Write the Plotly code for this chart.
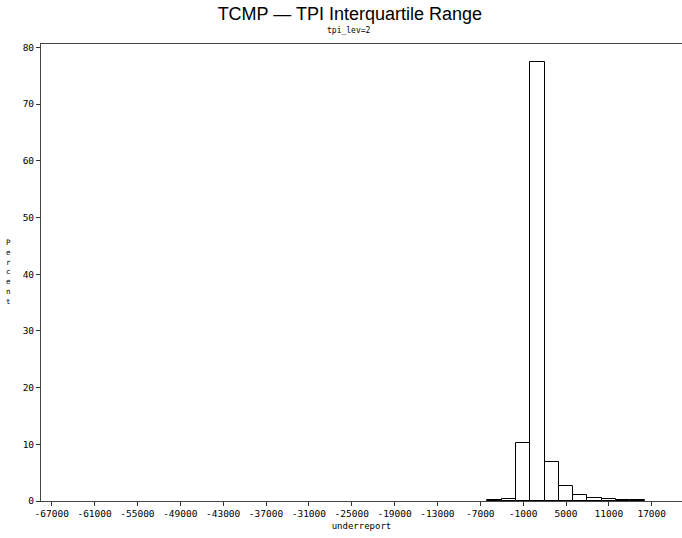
import plotly.graph_objects as go

# Histogram midpoints (bin width 2000) and percents
midpoints = [-5000, -3000, -1000, 1000, 3000, 5000, 7000, 9000, 11000, 13000, 15000]
percents = [0.1, 0.35, 10.3, 77.4, 6.8, 2.6, 1.1, 0.6, 0.3, 0.15, 0.15]
bin_width = 2000

x_ticks = list(range(-67000, 17001, 6000))
y_ticks = [0, 10, 20, 30, 40, 50, 60, 70, 80]

tick_font = dict(family="DejaVu Sans Mono", size=9.5, color="black")

fig = go.Figure()
fig.add_trace(go.Bar(
    x=midpoints, y=percents, width=bin_width,
    marker=dict(color="white", line=dict(color="black", width=1)),
    showlegend=False,
))

fig.update_layout(
    width=682, height=538,
    margin=dict(l=41, r=0, t=44, b=37),
    paper_bgcolor="white", plot_bgcolor="white",
    bargap=0,
    title=dict(
        text="TCMP — TPI Interquartile Range",
        x=0.513, xanchor="center", y=0.986, yanchor="top",
        font=dict(family="Liberation Sans", size=18, color="black"),
    ),
    xaxis=dict(
        range=[-68500, 21240],
        tickmode="array", tickvals=x_ticks, ticktext=[str(v) for v in x_ticks],
        ticks="outside", ticklen=4, tickcolor="#333", tickwidth=1,
        showline=True, linecolor="#444", linewidth=1, mirror=True,
        showgrid=False, zeroline=False,
        tickfont=tick_font,
        title=dict(text="underreport",
                   font=dict(family="DejaVu Sans Mono", size=9, color="black"),
                   standoff=4),
    ),
    yaxis=dict(
        range=[0, 80.6],
        tickmode="array", tickvals=y_ticks, ticktext=[str(v) for v in y_ticks],
        ticks="outside", ticklen=4, tickcolor="#333", tickwidth=1,
        showline=True, linecolor="#444", linewidth=1,
        showgrid=False, zeroline=False,
        tickfont=tick_font,
    ),
    annotations=[
        dict(text="tpi_lev=2", xref="paper", yref="paper",
             x=(349 - 41) / 641, y=1 + (44 - 30) / 457, xanchor="center", yanchor="middle",
             showarrow=False, font=dict(family="DejaVu Sans Mono", size=8, color="black")),
        dict(text="P<br>e<br>r<br>c<br>e<br>n<br>t", xref="paper", yref="paper",
             x=(8 - 41) / 641, y=(501 - 272) / 457, xanchor="center", yanchor="middle",
             showarrow=False, align="center",
             font=dict(family="DejaVu Sans Mono", size=7.5, color="black")),
    ],
)

fig.write_html("out.html")
